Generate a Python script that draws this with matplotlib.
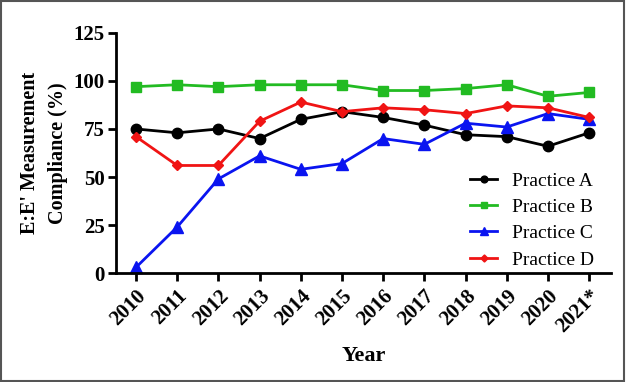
import matplotlib.pyplot as plt
from matplotlib.patches import Rectangle

years = ["2010", "2011", "2012", "2013", "2014", "2015",
         "2016", "2017", "2018", "2019", "2020", "2021*"]
practice_a = [75, 73, 75, 70, 80, 84, 81, 77, 72, 71, 66, 73]
practice_b = [97, 98, 97, 98, 98, 98, 95, 95, 96, 98, 92, 94]
practice_c = [3, 24, 49, 61, 54, 57, 70, 67, 78, 76, 83, 80]
practice_d = [71, 56, 56, 79, 89, 84, 86, 85, 83, 87, 86, 81]

plt.rcParams["font.family"] = ["Liberation Serif", "DejaVu Serif"]

fig = plt.figure(figsize=(6.26, 3.82), dpi=100)
ax = fig.add_axes([0.185, 0.285, 0.791, 0.629])

x = list(range(len(years)))
ax.plot(x, practice_a, "-o", color="black", lw=2, ms=7.5, label="Practice A", clip_on=False)
ax.plot(x, practice_b, "-s", color="#22bb22", lw=2, ms=7.5, label="Practice B", clip_on=False)
ax.plot(x, practice_c, "-^", color="#0a14f0", lw=2, ms=8, label="Practice C", clip_on=False)
ax.plot(x, practice_d, "-D", color="#f01414", lw=2, ms=5.5, label="Practice D", clip_on=False)

ax.set_xlim(-0.49, 11.53)
ax.set_ylim(0, 125)
ax.set_yticks([0, 25, 50, 75, 100, 125])
ax.set_xticks(x)
ax.set_xticklabels(years, rotation=45, ha="right", rotation_mode="anchor")

for s in ["top", "right"]:
    ax.spines[s].set_visible(False)
for s in ["left", "bottom"]:
    ax.spines[s].set_linewidth(2)
ax.tick_params(width=2, length=6, labelsize=15)
ax.tick_params(axis="x", pad=3)
ax.tick_params(axis="y", pad=2)
for lab in ax.get_xticklabels() + ax.get_yticklabels():
    lab.set_fontweight("bold")

ax.set_xlabel("Year", fontsize=16, fontweight="bold", labelpad=7)
ax.set_ylabel("E:E' Measurement\nCompliance (%)", fontsize=14.5, fontweight="bold",
              linespacing=1.55, labelpad=4)

ax.legend(loc="center left", bbox_to_anchor=(0.68, 0.22), frameon=False,
          fontsize=14, handlelength=1.4, handletextpad=0.75, labelspacing=0.45,
          markerscale=0.65)

fig.patches.append(Rectangle((0.002, 0.003), 0.995, 0.994, transform=fig.transFigure,
                             fill=False, edgecolor="#555555", lw=1.5))

fig.savefig("out.png", dpi=100)
